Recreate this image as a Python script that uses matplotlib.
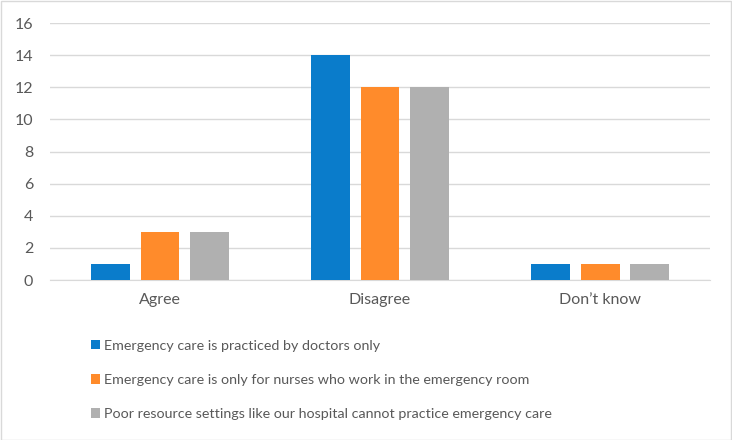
import numpy as np
import matplotlib.pyplot as plt
from matplotlib.patches import Rectangle

categories = ['Agree', 'Disagree', 'Don\u2019t know']
series_names = ['Emergency care is practiced by doctors only',
                'Emergency care is only for nurses who work in the emergency room',
                'Poor resource settings like our hospital cannot practice emergency care']
doctors_only = [1, 14, 1]
nurses_only = [3, 12, 1]
poor_resource = [3, 12, 1]
colors = ['#0A7CCB', '#FF8B2B', '#B0B0B0']

plt.rcParams['font.family'] = ['Lato', 'DejaVu Sans']
text_col = '#595959'

fig = plt.figure(figsize=(7.32, 4.4), dpi=100)
ax = fig.add_axes([0.0683, 0.3636, 0.9017, 0.5841])

x = np.arange(len(categories))
width = 0.177
offsets = [-0.223, 0, 0.223]
values = [doctors_only, nurses_only, poor_resource]
handles = []
for i in range(3):
    h = ax.bar(x + offsets[i], values[i], width, color=colors[i], zorder=3)
    handles.append(h)

ax.set_xlim(-0.5, 2.5)
ax.set_ylim(0, 16)
ax.set_yticks(np.arange(0, 17, 2))
ax.yaxis.grid(True, color='#D9D9D9', linewidth=1, zorder=0)
for s in ['top', 'right', 'left']:
    ax.spines[s].set_visible(False)
ax.spines['bottom'].set_color('#D9D9D9')
ax.spines['bottom'].set_zorder(1)
ax.tick_params(axis='both', length=0, colors=text_col, labelsize=11.5)
ax.tick_params(axis='y', pad=12)
ax.tick_params(axis='x', pad=9)
ax.set_xticks(x)
ax.set_xticklabels(categories)

fig.legend(handles, series_names, loc='upper left', bbox_to_anchor=(0.115, 0.244),
           frameon=False, fontsize=10.3, labelcolor=text_col, handlelength=0.62,
           handleheight=0.62, handletextpad=0.3, labelspacing=1.55, borderpad=0)

fig.patches.append(Rectangle((0.001, 0.001), 0.997, 0.997, transform=fig.transFigure,
                             fill=False, edgecolor='#D9D9D9', linewidth=1))

fig.savefig('out.png', dpi=100)
